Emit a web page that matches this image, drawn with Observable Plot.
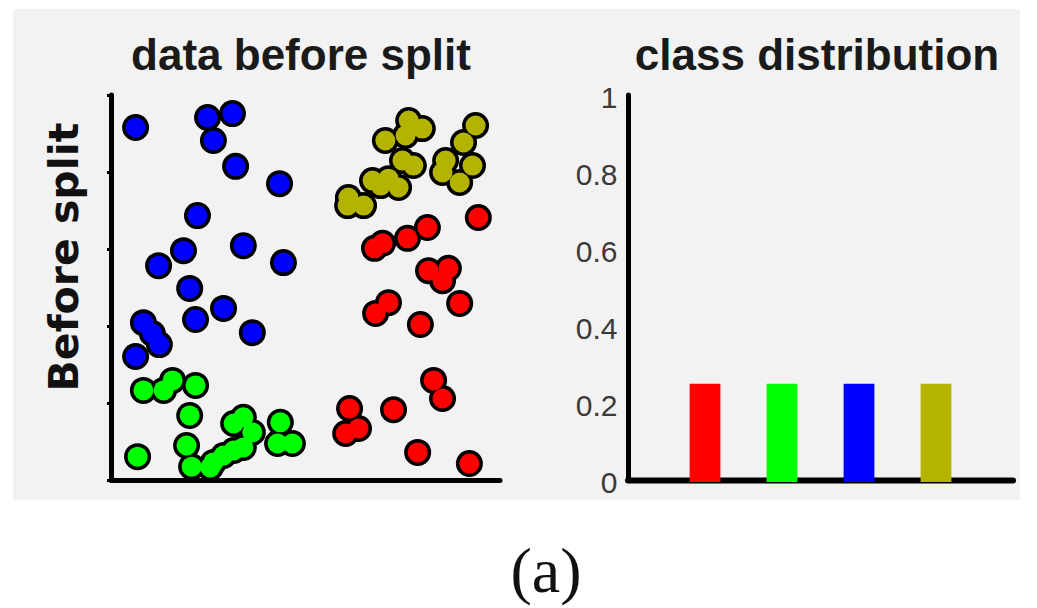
<!DOCTYPE html>
<html>
<head>
<meta charset="utf-8">
<script src="https://cdn.jsdelivr.net/npm/d3@7"></script>
<script src="https://cdn.jsdelivr.net/npm/@observablehq/plot@0.6"></script>
<style>
  html, body { margin: 0; padding: 0; background: #ffffff; }
  #root { position: relative; width: 1037px; height: 608px; overflow: hidden; }
  #panel { position: absolute; left: 13px; top: 9px; width: 1007px; height: 491px; background: #f2f2f2; }
  .plot { position: absolute; top: 0; }
  #overlay { position: absolute; left: 0; top: 0; }
</style>
</head>
<body>
<div id="root">
  <div id="panel"></div>
  <div id="left" class="plot" style="left:0px"></div>
  <div id="right" class="plot" style="left:520px"></div>
  <svg id="overlay" width="1037" height="608">
    <text x="301" y="70" text-anchor="middle" font-family="Liberation Sans, Arial, sans-serif" font-weight="bold" font-size="44" fill="#1a1a1a">data before split</text>
    <text x="817" y="70" text-anchor="middle" font-family="Liberation Sans, Arial, sans-serif" font-weight="bold" font-size="44" fill="#1a1a1a">class distribution</text>
    <text transform="translate(78,257) rotate(-90)" text-anchor="middle" font-family="DejaVu Sans, sans-serif" font-weight="bold" font-size="41" fill="#111">Before split</text>
    <text x="546" y="592" text-anchor="middle" font-family="Liberation Serif, Times New Roman, serif" font-size="64" fill="#111">(a)</text>
  </svg>
</div>
<script>
// ---- data: scatter points per class (x, y in 0..1 units) ----
const bluePoints = [
  [0.062,0.917],[0.247,0.943],[0.311,0.953],[0.262,0.883],[0.319,0.816],
  [0.432,0.771],[0.221,0.688],[0.339,0.610],[0.185,0.597],[0.121,0.558],
  [0.442,0.566],[0.201,0.499],[0.288,0.447],[0.216,0.418],[0.362,0.384],
  [0.082,0.410],[0.105,0.382],[0.123,0.353],[0.062,0.322]
];
const greenPoints = [
  [0.082,0.234],[0.134,0.234],[0.157,0.260],[0.216,0.247],[0.201,0.169],
  [0.067,0.062],[0.193,0.091],[0.206,0.036],[0.254,0.034],[0.262,0.047],
  [0.288,0.065],[0.314,0.078],[0.339,0.086],[0.314,0.148],[0.339,0.164],
  [0.362,0.125],[0.434,0.151],[0.427,0.096],[0.465,0.096]
];
const redPoints = [
  [0.943,0.683],[0.812,0.657],[0.761,0.629],[0.697,0.616],[0.676,0.603],
  [0.815,0.545],[0.866,0.551],[0.851,0.519],[0.895,0.460],[0.712,0.462],
  [0.679,0.434],[0.794,0.405],[0.828,0.260],[0.851,0.213],[0.612,0.187],
  [0.725,0.184],[0.635,0.135],[0.602,0.122],[0.787,0.073],[0.920,0.044]
];
const olivePoints = [
  [0.764,0.935],[0.799,0.914],[0.756,0.896],[0.704,0.883],[0.936,0.922],
  [0.905,0.878],[0.748,0.831],[0.776,0.818],[0.859,0.831],[0.928,0.818],
  [0.851,0.800],[0.895,0.774],[0.671,0.779],[0.712,0.784],[0.738,0.761],
  [0.692,0.766],[0.609,0.735],[0.648,0.714],[0.607,0.714]
];

// ---- data: class distribution bars ----
const classNames = ["class 1", "class 2", "class 3", "class 4"];
const classColorList = ["#ff0000", "#00ff00", "#0000ff", "#b3b300"];
const classPositions = [1, 2, 3, 4];
const classFractions = [0.25, 0.25, 0.25, 0.25];
const yTicks = [0, 0.2, 0.4, 0.6, 0.8, 1];
const leftTicks = [0, 0.2, 0.4, 0.6, 0.8, 1];

const points = [
  ...redPoints.map(([x, y]) => ({x, y, cls: classNames[0]})),
  ...greenPoints.map(([x, y]) => ({x, y, cls: classNames[1]})),
  ...bluePoints.map(([x, y]) => ({x, y, cls: classNames[2]})),
  ...olivePoints.map(([x, y]) => ({x, y, cls: classNames[3]}))
];

const bars = classNames.map((c, i) => ({cls: c, pos: classPositions[i], value: classFractions[i]}));

const colorScale = {type: "ordinal", domain: classNames, range: classColorList};

const leftPlot = Plot.plot({
  width: 540,
  height: 510,
  marginLeft: 111,
  marginRight: 40,
  marginTop: 95,
  marginBottom: 30,
  x: {domain: [0, 1], axis: null},
  y: {domain: [0, 1]},
  color: colorScale,
  style: {background: "transparent", overflow: "visible"},
  marks: [
    Plot.axisY({ticks: leftTicks, tickSize: 4, tickFormat: () => "", strokeWidth: 3, label: null}),
    Plot.ruleX([0], {y1: 0, y2: 1, stroke: "black", strokeWidth: 5, strokeLinecap: "round"}),
    Plot.ruleY([0], {x1: 0, x2: 1, stroke: "black", strokeWidth: 5, strokeLinecap: "round"}),
    Plot.dot(points, {x: "x", y: "y", r: 13.5, fill: "black", stroke: "none"}),
    Plot.dot(points, {x: "x", y: "y", r: 10, fill: "cls", stroke: "none"})
  ]
});
document.getElementById("left").appendChild(leftPlot);

const rightPlot = Plot.plot({
  width: 517,
  height: 510,
  marginLeft: 108,
  marginRight: 24,
  marginTop: 95,
  marginBottom: 30,
  x: {domain: [0, 5], axis: null},
  y: {domain: [0, 1]},
  color: colorScale,
  style: {background: "transparent", overflow: "visible"},
  marks: [
    Plot.axisY({
      ticks: yTicks,
      tickSize: 0,
      tickPadding: 11,
      tickFormat: d => String(d),
      fontSize: 30,
      fontFamily: "Liberation Sans, Arial, sans-serif",
      fill: "#3a3a3a",
      dy: 3,
      label: null
    }),
    Plot.ruleX([0], {y1: 0, y2: 1, stroke: "black", strokeWidth: 5, strokeLinecap: "round"}),
    Plot.ruleY([0], {x1: 0, x2: 5, stroke: "black", strokeWidth: 6, strokeLinecap: "round"}),
    Plot.rectY(bars, {x1: d => d.pos - 0.2, x2: d => d.pos + 0.2, y1: 0, y2: "value", fill: "cls", insetBottom: -2})
  ]
});
document.getElementById("right").appendChild(rightPlot);
</script>
</body>
</html>
